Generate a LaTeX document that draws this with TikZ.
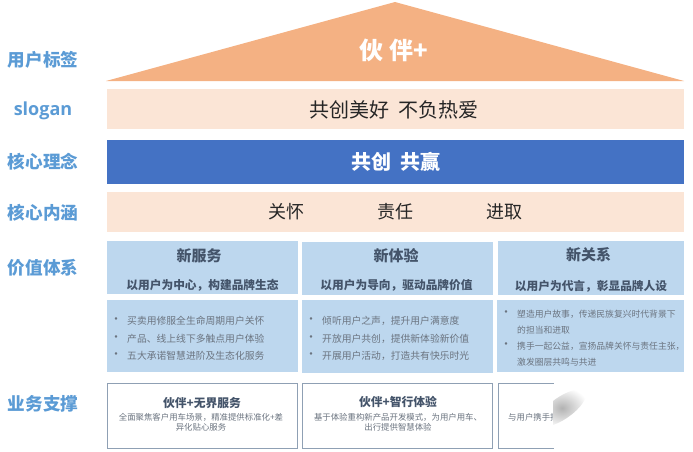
\documentclass[tikz,border=0pt]{standalone}
\usepackage{fontspec}
\setmainfont{Noto Sans CJK SC}
\newfontfamily\latinbold{Open Sans}
\usetikzlibrary{positioning}
\definecolor{peach}{HTML}{F4B183}
\definecolor{bandpeach}{HTML}{FBE5D6}
\definecolor{coreblue}{HTML}{4472C4}
\definecolor{cardblue}{HTML}{BDD7EE}
\definecolor{labelblue}{HTML}{5B9BD5}
\definecolor{slate}{HTML}{44546A}
\definecolor{bodygray}{HTML}{6B7480}
\definecolor{edgegray}{HTML}{8FA0B4}
\def\fs#1{\fontsize{#1}{#1}\selectfont}
\tikzset{
	rowlabel/.style={text=labelblue, font=\fs{17.6}\bfseries, inner sep=0},
	band/.style={fill=bandpeach, minimum width=577, minimum height=40, inner sep=0, font=\fs{20}, text=black!85},
	card/.style={fill=cardblue, inner sep=0},
	cardtitle/.style={text=slate, font=\fs{15}\bfseries, inner sep=0},
	cardsub/.style={text=slate, font=\fs{11.7}\bfseries, inner sep=0},
	bodyline/.style={anchor=west, text=bodygray, font=\fs{9.8}, inner sep=0},
	dotmark/.style={text=bodygray, font=\fs{12}, inner sep=0},
	supportbox/.style={draw=edgegray, line width=0.9, fill=white, inner sep=0},
	supporttitle/.style={text=slate, font=\fs{11.8}\bfseries, inner sep=0},
	supportline/.style={text=bodygray, font=\fs{8.4}, inner sep=0}
}

\begin{document}
\begin{tikzpicture}[x=1pt, y=-1pt]
		%%%%% START %%%%%
		\useasboundingbox (0, 0) rectangle (693, 452);
		
		% left column
		\node[rowlabel] (labeluser) at (43, 60) {用户标签};
		\node[rowlabel, font=\latinbold\fs{18}\bfseries] (labelslogan) at (43, 110.5) {slogan};
		\node[rowlabel] (labelidea) at (43, 162) {核心理念};
		\node[rowlabel] (labelmeaning) at (43, 213) {核心内涵};
		\node[rowlabel] (labelvalue) at (43, 268) {价值体系};
		\node[rowlabel] (labelsupport) at (43, 404) {业务支撑};
		
		% roof and bands
		\fill[peach] (106, 81) -- (395, 2) -- (684, 81) -- cycle;
		\node[text=white, font=\fs{24}\bfseries, inner sep=0] (roof) at (394, 50) {伙\hspace{6pt}伴+};
		
		\node[band] (slogan) at (395.5, 109) {};
		\node[text=black!85, font=\fs{20}, inner sep=0] (slogantext) at (394, 110) {共创美好\hspace{9pt}不负热爱};
		\node[band, fill=coreblue, minimum height=44, text=white, font=\fs{20}\bfseries] (core) at (395.5, 162) {共创\hspace{9pt}共赢};
		\node[band] (meaning) at (395.5, 212) {};
		\node[text=black!85, font=\fs{18}, inner sep=0] (care) at (286, 212) {关怀};
		\node[text=black!85, font=\fs{18}, inner sep=0] (duty) at (395, 212) {责任};
		\node[text=black!85, font=\fs{18}, inner sep=0] (drive) at (504, 212) {进取};
		
		% first column
		\node[card, minimum width=191, minimum height=53] (headservice) at (202.5, 267.5) {};
		\node[cardtitle] (titleservice) at (199, 256) {新服务};
		\node[cardsub] (subservice) at (202.5, 285) {以用户为中心，构建品牌生态};
		\node[card, minimum width=191, minimum height=72] (bodyservice) at (202.5, 336) {};
		\node[dotmark] (dotsa) at (116, 321) {•};
		\node[bodyline] (linesa) at (127, 321) {买卖用修服全生命周期用户关怀};
		\node[dotmark] (dotsb) at (116, 339) {•};
		\node[bodyline] (linesb) at (127, 339) {产品、线上线下多触点用户体验};
		\node[dotmark] (dotsc) at (116, 356) {•};
		\node[bodyline] (linesc) at (127, 356) {五大承诺智慧进阶及生态化服务};
		
		% second column
		\node[card, minimum width=191, minimum height=53] (headride) at (397.5, 268) {};
		\node[cardtitle] (titleride) at (396, 256) {新体验};
		\node[cardsub] (subride) at (396.5, 285) {以用户为导向，驱动品牌价值};
		\node[card, minimum width=191, minimum height=73] (bodyride) at (397.5, 336.5) {};
		\node[dotmark] (dotra) at (311, 321) {•};
		\node[bodyline] (linera) at (322, 321) {倾听用户之声，提升用户满意度};
		\node[dotmark] (dotrb) at (311, 339) {•};
		\node[bodyline] (linerb) at (322, 339) {开放用户共创，提供新体验新价值};
		\node[dotmark] (dotrc) at (311, 356) {•};
		\node[bodyline] (linerc) at (322, 356) {开展用户活动，打造共有快乐时光};
		
		% third column
		\node[card, minimum width=186, minimum height=54] (headbond) at (591, 268) {};
		\node[cardtitle] (titlebond) at (588.5, 255) {新关系};
		\node[cardsub] (subbond) at (591, 286) {以用户为代言，彰显品牌人设};
		\node[card, minimum width=187, minimum height=72] (bodybond) at (590.5, 336) {};
		\node[dotmark] (dotba) at (506, 314) {•};
		\node[bodyline, font=\fs{8.8}] (lineba) at (517, 314) {塑造用户故事，传递民族复兴时代背景下};
		\node[bodyline, font=\fs{8.8}] (linebb) at (517, 330) {的担当和进取};
		\node[dotmark] (dotbb) at (506, 346) {•};
		\node[bodyline, font=\fs{8.8}] (linebc) at (517, 346) {携手一起公益，宣扬品牌关怀与责任主张，};
		\node[bodyline, font=\fs{8.8}] (linebd) at (517, 362) {激发圈层共鸣与共进};
		
		% support row
		\node[supportbox, minimum width=190, minimum height=65] (boxservice) at (202, 415.5) {};
		\node[supporttitle] (boxtitleservice) at (202, 403) {伙伴+无界服务};
		\node[supportline] (boxservicea) at (201, 417) {全面聚焦客户用车场景，精准提供标准化+差};
		\node[supportline] (boxserviceb) at (201, 427) {异化贴心服务};
		
		\node[supportbox, minimum width=190, minimum height=65] (boxride) at (397, 415.5) {};
		\node[supporttitle] (boxtitleride) at (398, 402) {伙伴+智行体验};
		\node[supportline] (boxridea) at (398, 417) {基于体验重构新产品开发模式，为用户用车、};
		\node[supportline] (boxrideb) at (398, 427) {出行提供智慧体验};
		
		\node[supportbox, minimum width=100, minimum height=65] (boxbond) at (548, 415.5) {};
		\node[supportline, anchor=west] (boxbonda) at (508, 417) {与用户携手打};
		
		% wiped part on the right
		\fill[white] (554, 376) rectangle (693, 452);
		\begin{scope}
			\clip (553, 390) rectangle (600, 435);
			\shade[inner color=black!30, outer color=white, rotate around={35:(562, 408)}] (562, 408) ellipse (28 and 11);
		\end{scope}
		%%%%% END %%%%%
	\end{tikzpicture}
\end{document}
